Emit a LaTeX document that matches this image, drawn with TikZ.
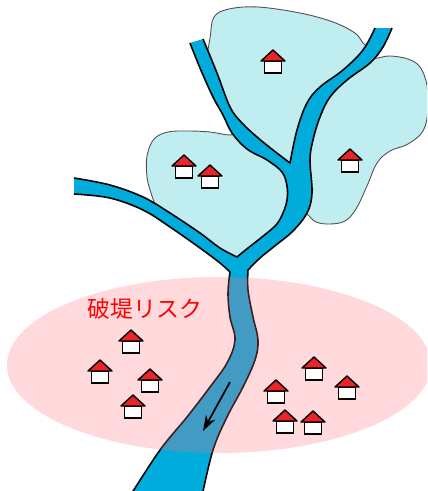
\documentclass[tikz,border=0pt]{standalone}
\usepackage{fontspec}
\newfontfamily\jpfont{Noto Sans CJK JP}
\usetikzlibrary{arrows.meta}

\definecolor{riverblue}{RGB}{0,172,220}
\definecolor{basincyan}{RGB}{191,237,240}
\definecolor{edgegray}{RGB}{80,80,80}
\definecolor{roofred}{RGB}{234,36,40}
\definecolor{riskpink}{RGB}{255,110,120}

\begin{document}
\begin{tikzpicture}[
    x=0.02cm, y=-0.02cm,
    curve/.style={smooth, tension=0.6},
    basin/.style={fill=basincyan, draw=edgegray, line width=0.5pt},
    river/.style={fill=riverblue},
    bank/.style={draw=black, line width=0.9pt, line join=round},
    riskzone/.style={fill=riskpink, fill opacity=0.26},
    flow/.style={-{Stealth[length=9pt, width=6pt]}, line width=1pt},
    lbl/.style={font=\jpfont\fontsize{13}{15}\selectfont, text=red, inner sep=0pt},
    house/.pic={
        \filldraw[fill=white, line width=0.8pt] (-8.5,-12) rectangle (8.5,0);
        \filldraw[fill=roofred, line width=0.8pt, line join=round]
            (-12,-12) -- (0,-23) -- (12,-12) -- cycle;
    },
]
\useasboundingbox (0,0) rectangle (427,491);
\clip (0,0) rectangle (427,491);

%% ---- CATCHMENTS ----
\filldraw[basin]
    plot[curve] coordinates {(206,62) (210,38) (214,17) (229,9) (258,7) (300,13) (333,22) (355,33) (363,43) (372,50)}
    -- (362,60) -- (350,72) -- (330,88) -- (315,106) -- (307,128) -- (300,158) -- (298,180)
    -- (288,170) -- (272,157) -- (252,143) -- (240,130) -- (228,113) -- (220,97) -- cycle;
\filldraw[basin]
    plot[curve] coordinates {(364,60) (378,58) (390,56) (408,59) (420,67) (427,85) (428,110) (423,131) (408,144) (390,151) (377,163) (367,186) (356,209) (345,221) (330,224) (316,222) (307,214) (297,208)}
    -- (299,190) -- (300,158) -- (307,128) -- (315,106) -- (330,88) -- (350,72) -- cycle;
\filldraw[basin]
    plot[curve] coordinates {(240,131) (230,135) (210,132) (188,131) (168,132) (154,139) (147,156) (147,177) (151,193) (157,210)}
    -- (170,220) -- (185,230) -- (200,241) -- (220,256) -- (238,266) -- (250,258) -- (264,243)
    -- (282,229) -- (295,213) -- (299,190) -- (288,170) -- (272,157) -- (252,143) -- cycle;

%% ---- RIVER ----
\fill[river]
    plot[curve] coordinates {(190,43) (200,68) (213,97) (223,115) (232,133) (247,149) (267,160) (282,172) (287,186) (287,200) (283,213) (276,225) (262,237) (248,248) (237,257)}
 -- plot[curve] coordinates {(237,257) (220,248) (200,233) (170,213) (143,197) (110,185) (74,178)}
 -- plot[curve] coordinates {(74,194) (110,198) (143,210) (170,227) (200,248) (220,263) (230,272)}
 -- plot[curve] coordinates {(230,272) (228,293) (230,317) (235,340) (227,363) (210,387) (187,417) (160,450) (130,496)}
 -- plot[curve] coordinates {(202,496) (213,450) (227,417) (243,387) (255,360) (258,340) (253,317) (248,290) (248,270)}
 -- plot[curve] coordinates {(248,270) (260,258) (276,245) (293,231) (307,213) (312,193) (310,160) (313,140) (320,117) (330,97) (347,80) (370,63) (383,47) (392,28)}
 -- plot[curve] coordinates {(375,28) (363,50) (343,70) (320,87) (307,103) (297,130) (290,163)}
 -- plot[curve] coordinates {(290,163) (273,150) (257,137) (242,123) (230,107) (217,73) (203,39)}
 -- cycle;

% banks, open at the three upper ends
\draw[bank]
    plot[curve] coordinates {(190,43) (200,68) (213,97) (223,115) (232,133) (247,149) (267,160) (282,172) (287,186) (287,200) (283,213) (276,225) (262,237) (248,248) (237,257)}
 -- plot[curve] coordinates {(237,257) (220,248) (200,233) (170,213) (143,197) (110,185) (74,178)};
\draw[bank]
    plot[curve] coordinates {(74,194) (110,198) (143,210) (170,227) (200,248) (220,263) (230,272)}
 -- plot[curve] coordinates {(230,272) (228,293) (230,317) (235,340) (227,363) (210,387) (187,417) (160,450) (130,496)};
\draw[bank]
    plot[curve] coordinates {(202,496) (213,450) (227,417) (243,387) (255,360) (258,340) (253,317) (248,290) (248,270)}
 -- plot[curve] coordinates {(248,270) (260,258) (276,245) (293,231) (307,213) (312,193) (310,160) (313,140) (320,117) (330,97) (347,80) (370,63) (383,47) (392,28)};
\draw[bank]
    plot[curve] coordinates {(375,28) (363,50) (343,70) (320,87) (307,103) (297,130) (290,163)}
 -- plot[curve] coordinates {(290,163) (273,150) (257,137) (242,123) (230,107) (217,73) (203,39)};

%% ---- RISK ZONE ----
\fill[riskzone] (219,365) ellipse [x radius=212, y radius=88];

%% ---- HOUSES ----
\foreach \hx/\hy in {273/73, 184/178, 210/188, 350/172,
                     131/353, 100/383, 150/392, 133/418,
                     314/380, 276/403, 347/399, 285/433, 313/434}
    \pic at (\hx,\hy) {house};

%% ---- LABEL & FLOW ----
\node[lbl] (risk) at (145,309) {破堤リスク};
\coordinate (flowtop) at (230,382);
\coordinate (flowtip) at (203,431);
\draw[flow] (flowtop) -- (flowtip);

\end{tikzpicture}
\end{document}
